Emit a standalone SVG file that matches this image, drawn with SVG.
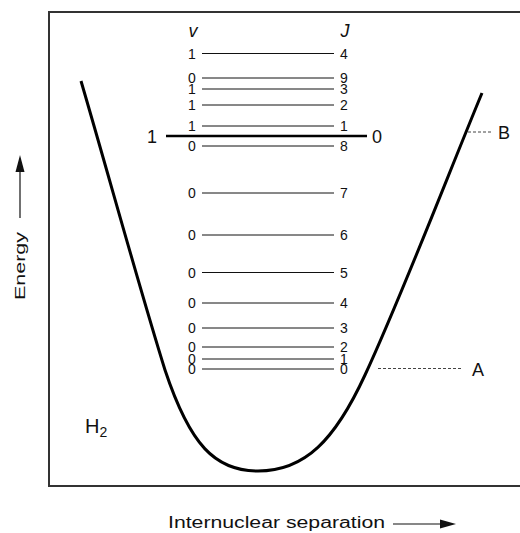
<svg xmlns="http://www.w3.org/2000/svg" width="520" height="533" viewBox="0 0 520 533">
<style>
text{font-family:"Liberation Sans",Arial,sans-serif;fill:#111}
.d{font-size:14px;text-anchor:middle}
.big{font-size:18px}
.lvl{stroke:#111;stroke-width:1}
.dash{stroke:#444;stroke-width:1;stroke-dasharray:3,2}
</style>
<rect width="520" height="533" fill="#fff"/>
<g id="frame"><path d="M521,12 H49 V486 H521" fill="none" stroke="#333" stroke-width="2"/></g>
<g id="curve"><path d="M81,81 C110,180 140,290 165,370 C190,445 215,471 258,471 C305,471 335,440 365,375 C400,300 450,170 482,93" fill="none" stroke="#000" stroke-width="3"/></g>
<g id="connectors">
<line class="dash" x1="468" y1="132" x2="492" y2="132"/>
<line class="dash" x1="378" y1="368.5" x2="463" y2="368.5"/>
<line x1="20" y1="218" x2="20" y2="170" stroke="#111" stroke-width="1.2"/>
<polygon points="20,155 15.5,172 24.5,172" fill="#111"/>
<line x1="393" y1="524" x2="442" y2="524" stroke="#111" stroke-width="1.2"/>
<polygon points="456,524 440,519.5 440,528.5" fill="#111"/>
</g>
<g id="levels">
<line class="lvl" x1="202" y1="53.5" x2="334" y2="53.5"/>
<line class="lvl" x1="202" y1="78" x2="334" y2="78"/>
<line class="lvl" x1="202" y1="89" x2="334" y2="89"/>
<line class="lvl" x1="202" y1="105" x2="334" y2="105"/>
<line class="lvl" x1="202" y1="126" x2="334" y2="126"/>
<line x1="166" y1="136" x2="367" y2="136" stroke="#000" stroke-width="2.5"/>
<line class="lvl" x1="202" y1="146" x2="334" y2="146"/>
<line class="lvl" x1="202" y1="193" x2="334" y2="193"/>
<line class="lvl" x1="202" y1="235" x2="334" y2="235"/>
<line class="lvl" x1="202" y1="272.5" x2="334" y2="272.5"/>
<line class="lvl" x1="202" y1="303" x2="334" y2="303"/>
<line class="lvl" x1="202" y1="328" x2="334" y2="328"/>
<line class="lvl" x1="202" y1="347" x2="334" y2="347"/>
<line class="lvl" x1="202" y1="359" x2="334" y2="359"/>
<line class="lvl" x1="202" y1="369" x2="334" y2="369"/>
</g>
<g id="v-labels">
<text x="193" y="36.5" font-size="18" font-style="italic" text-anchor="middle">v</text>
<text class="d" x="192" y="58.5">1</text>
<text class="d" x="192" y="83">0</text>
<text class="d" x="192" y="94">1</text>
<text class="d" x="192" y="110">1</text>
<text class="d" x="192" y="131">1</text>
<text class="d" x="192" y="151">0</text>
<text class="d" x="192" y="198">0</text>
<text class="d" x="192" y="240">0</text>
<text class="d" x="192" y="277.5">0</text>
<text class="d" x="192" y="308">0</text>
<text class="d" x="192" y="333">0</text>
<text class="d" x="192" y="352">0</text>
<text class="d" x="192" y="364">0</text>
<text class="d" x="192" y="374">0</text>
<text class="big" x="152" y="142.5" text-anchor="middle">1</text>
</g>
<g id="j-labels">
<text x="345" y="36.5" font-size="18" font-style="italic" text-anchor="middle">J</text>
<text class="d" x="344" y="58.5">4</text>
<text class="d" x="344" y="83">9</text>
<text class="d" x="344" y="94">3</text>
<text class="d" x="344" y="110">2</text>
<text class="d" x="344" y="131">1</text>
<text class="d" x="344" y="151">8</text>
<text class="d" x="344" y="198">7</text>
<text class="d" x="344" y="240">6</text>
<text class="d" x="344" y="277.5">5</text>
<text class="d" x="344" y="308">4</text>
<text class="d" x="344" y="333">3</text>
<text class="d" x="344" y="352">2</text>
<text class="d" x="344" y="364">1</text>
<text class="d" x="344" y="374">0</text>
<text class="big" x="377" y="142.5" text-anchor="middle">0</text>
</g>
<g id="labels">
<text class="big" x="498" y="139">B</text>
<text class="big" x="472" y="375.5">A</text>
<text x="85" y="433" font-size="20">H<tspan font-size="14" dy="4">2</tspan></text>
<text x="168" y="527.5" font-size="16" textLength="217" lengthAdjust="spacingAndGlyphs">Internuclear separation</text>
<text transform="translate(25,266) rotate(-90)" font-size="15.5" text-anchor="middle" textLength="68" lengthAdjust="spacingAndGlyphs">Energy</text>
</g>
</svg>
